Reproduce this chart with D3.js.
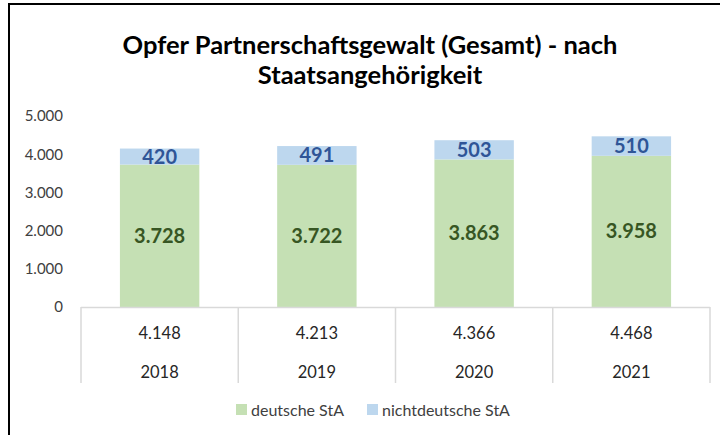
<!DOCTYPE html>
<html lang="de">
<head>
<meta charset="utf-8">
<script src="https://d3js.org/d3.v7.min.js"></script>
<style>
  body { margin: 0; background: #fff; }
  text { font-family: Lato, "Open Sans", sans-serif; }
</style>
</head>
<body>
<div id="chart"></div>
<script>
const years = ['2018', '2019', '2020', '2021']
const deutsche = [3728, 3722, 3863, 3958]
const nichtdeutsche = [420, 491, 503, 510]
const totals = [4148, 4213, 4366, 4468]
const yTicks = [0, 1000, 2000, 3000, 4000, 5000]
const seriesNames = ['deutsche StA', 'nichtdeutsche StA']

const width = 720
const height = 435
const fmt = d3.formatLocale({ decimal: ',', thousands: '.', grouping: [3] }).format(',')

const svg = d3.select('#chart').append('svg')
  .attr('width', width)
  .attr('height', height)

// frame (left + top edge visible)
svg.append('path')
  .attr('d', `M9,435 V4 H720`)
  .attr('fill', 'none')
  .attr('stroke', '#000')
  .attr('stroke-width', 2)

// title
const title = svg.append('text')
  .attr('text-anchor', 'middle')
  .attr('font-size', 25.5)
  .attr('font-weight', 'bold')
  .attr('fill', '#000')
title.append('tspan').attr('x', 370).attr('y', 54).text('Opfer Partnerschaftsgewalt (Gesamt) - nach')
title.append('tspan').attr('x', 370).attr('y', 84).text('Staatsangehörigkeit')

const x = d3.scaleBand().domain(years).range([81, 710]).padding(0)
const y = d3.scaleLinear().domain([0, 5000]).range([307, 116])

// y axis labels
const yAxis = d3.axisLeft(y).tickValues(yTicks).tickFormat(fmt).tickSize(0).tickPadding(0)
const ya = svg.append('g').attr('transform', 'translate(63,0)').call(yAxis)
ya.select('.domain').remove()
ya.selectAll('text').attr('font-size', 15).attr('fill', '#404040')
  .style('font-family', 'Lato, sans-serif')

const barW = x.bandwidth() * 0.505
const data = years.map((yr, i) => ({ yr, de: deutsche[i], nd: nichtdeutsche[i], tot: totals[i] }))

const g = svg.append('g')
g.selectAll('rect.de').data(data).join('rect')
  .attr('x', d => x(d.yr) + (x.bandwidth() - barW) / 2)
  .attr('width', barW)
  .attr('y', d => y(d.de))
  .attr('height', d => y(0) - y(d.de))
  .attr('fill', '#c5e0b4')
g.selectAll('rect.nd').data(data).join('rect')
  .attr('x', d => x(d.yr) + (x.bandwidth() - barW) / 2)
  .attr('width', barW)
  .attr('y', d => y(d.de + d.nd))
  .attr('height', d => y(d.de) - y(d.de + d.nd))
  .attr('fill', '#bdd7ee')

// data labels
g.selectAll('text.de').data(data).join('text')
  .attr('x', d => x(d.yr) + x.bandwidth() / 2)
  .attr('y', d => (y(0) + y(d.de)) / 2 + 7)
  .attr('text-anchor', 'middle')
  .attr('font-size', 20)
  .attr('font-weight', 'bold')
  .attr('fill', '#375623')
  .text(d => fmt(d.de))
g.selectAll('text.nd').data(data).join('text')
  .attr('x', d => x(d.yr) + x.bandwidth() / 2)
  .attr('y', d => (y(d.de) + y(d.de + d.nd)) / 2 + 7)
  .attr('text-anchor', 'middle')
  .attr('font-size', 20)
  .attr('font-weight', 'bold')
  .attr('fill', '#2f5597')
  .text(d => fmt(d.nd))

// data table under the axis
const tbl = svg.append('g')
tbl.append('line')
  .attr('x1', x.range()[0]).attr('x2', x.range()[1])
  .attr('y1', 307.5).attr('y2', 307.5)
  .attr('stroke', '#d9d9d9').attr('stroke-width', 1.5)
const edges = years.map(yr => x(yr)).concat([x.range()[1]])
tbl.selectAll('line.v').data(edges).join('line')
  .attr('x1', d => d).attr('x2', d => d)
  .attr('y1', 307).attr('y2', 383)
  .attr('stroke', '#d9d9d9').attr('stroke-width', 1.5)
tbl.selectAll('text.tot').data(data).join('text')
  .attr('x', d => x(d.yr) + x.bandwidth() / 2)
  .attr('y', 339)
  .attr('text-anchor', 'middle')
  .attr('font-size', 16.5)
  .attr('fill', '#262626')
  .text(d => fmt(d.tot))
tbl.selectAll('text.yr').data(data).join('text')
  .attr('x', d => x(d.yr) + x.bandwidth() / 2)
  .attr('y', 378)
  .attr('text-anchor', 'middle')
  .attr('font-size', 16.5)
  .attr('fill', '#262626')
  .text(d => d.yr)

// legend
const legColors = ['#c5e0b4', '#bdd7ee']
const legX = [236, 367]
const leg = svg.append('g')
seriesNames.forEach((name, i) => {
  leg.append('rect')
    .attr('x', legX[i]).attr('y', 404)
    .attr('width', 11).attr('height', 11)
    .attr('fill', legColors[i])
  leg.append('text')
    .attr('x', legX[i] + 15).attr('y', 416)
    .attr('font-size', 16)
    .attr('fill', '#404040')
    .text(name)
})
</script>
</body>
</html>
